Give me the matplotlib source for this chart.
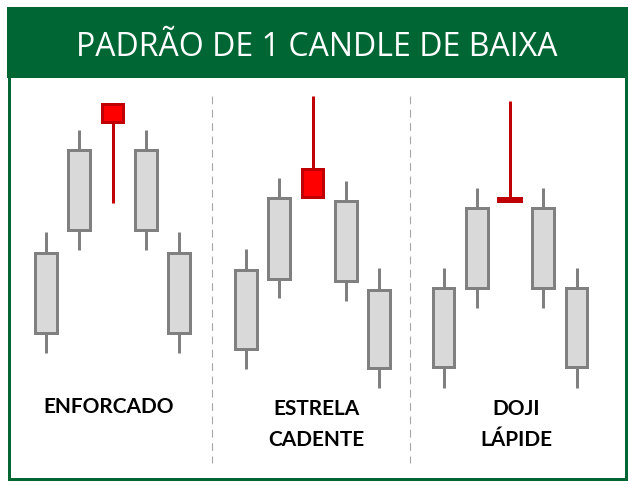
import matplotlib
matplotlib.use("Agg")
import matplotlib.pyplot as plt
from matplotlib.patches import Rectangle

# ---------------- data ----------------
title = "PADRÃO DE 1 CANDLE DE BAIXA"
panel_labels = [["ENFORCADO"], ["ESTRELA", "CADENTE"], ["DOJI", "LÁPIDE"]]

# OHLC per panel (arbitrary price units); index 2 is the highlighted bearish candle
p1_open  = [66.5, 169.5, 295.5, 249.5, 146.5]
p1_high  = [167, 269, 295.5, 269, 167]
p1_low   = [46, 149, 196, 149, 46]
p1_close = [146.5, 249.5, 277.5, 169.5, 66.5]

p2_open  = [50.5, 120.5, 230.5, 198.5, 109.5]
p2_high  = [150, 221, 303, 218, 131]
p2_low   = [30, 101, 202.5, 98, 11]
p2_close = [129.5, 201.5, 202.5, 118.5, 31.5]

p3_open  = [32.5, 111.5, 199, 191.5, 111.5]
p3_high  = [131, 211, 298, 211, 131]
p3_low   = [11, 91, 199, 91, 11]
p3_close = [111.5, 191.5, 199, 111.5, 32.5]

panels = [
    (p1_open, p1_high, p1_low, p1_close),
    (p2_open, p2_high, p2_low, p2_close),
    (p3_open, p3_high, p3_low, p3_close),
]
highlight = 2

# ---------------- style ----------------
W, H = 633, 489
GREEN = "#006633"
GREY_EDGE = "#808080"
GREY_FILL = "#d9d9d9"
RED_FILL = "#ff0000"
RED_EDGE = "#c00000"
px = 72 / 100.0  # points per pixel

fig = plt.figure(figsize=(W / 100, H / 100), dpi=100)
bg = fig.add_axes([0, 0, 1, 1])
bg.set_xlim(0, W)
bg.set_ylim(H, 0)
bg.axis("off")

# header + frame
bg.add_patch(Rectangle((7, 8), 620, 71, facecolor=GREEN, edgecolor="none", zorder=1))
bg.add_patch(Rectangle((8.5, 9), 617, 470.5, facecolor="none", edgecolor=GREEN,
                       lw=3 * px, zorder=2))
bg.text(316.5, 56, title, color="white", fontsize=23, family=["Open Sans", "DejaVu Sans"],
        ha="center", va="baseline", zorder=3)

# separators
for xs in (212, 410):
    bg.plot([xs, xs], [97, 464], color="#a6a6a6", lw=0.8, ls=(0, (7, 5)), zorder=2)

# labels
label_cx = [108.5, 316.5, 516]
label_base = [[413], [415, 446], [415, 446]]
for cx, lines, bases in zip(label_cx, panel_labels, label_base):
    for t, b in zip(lines, bases):
        bg.text(cx, b, t, color="black", fontsize=15, fontweight="bold",
                family=["Lato", "DejaVu Sans"], ha="center", va="baseline", zorder=3)

# candle panels
centers = [112.5, 312.5, 510]
spacing = 33.25
y_top_px, y_bot_px = 90, 400
body_w = 0.66
for cx, (o, h, l, c) in zip(centers, panels):
    left = (cx - 2.5 * spacing) / W
    ax = fig.add_axes([left, (H - y_bot_px) / H, 5 * spacing / W, (y_bot_px - y_top_px) / H])
    ax.set_xlim(-0.5, 4.5)
    ax.set_ylim(0, y_bot_px - y_top_px)
    ax.axis("off")
    ax.patch.set_alpha(0)
    for i in range(5):
        red = (i == highlight)
        wick_c = RED_EDGE if red else GREY_EDGE
        ax.plot([i, i], [l[i], h[i]], color=wick_c, lw=3 * px, solid_capstyle="butt", zorder=2)
        lo, hi = min(o[i], c[i]), max(o[i], c[i])
        if hi - lo < 1e-6:
            ax.plot([i - 0.39, i + 0.39], [lo, lo], color=RED_EDGE if red else GREY_EDGE,
                    lw=6 * px, solid_capstyle="butt", zorder=3)
        else:
            ax.add_patch(Rectangle((i - body_w / 2, lo), body_w, hi - lo,
                                   facecolor=RED_FILL if red else GREY_FILL,
                                   edgecolor=RED_EDGE if red else GREY_EDGE,
                                   lw=3 * px, zorder=3))

fig.savefig("out.png", dpi=100, facecolor="white")
